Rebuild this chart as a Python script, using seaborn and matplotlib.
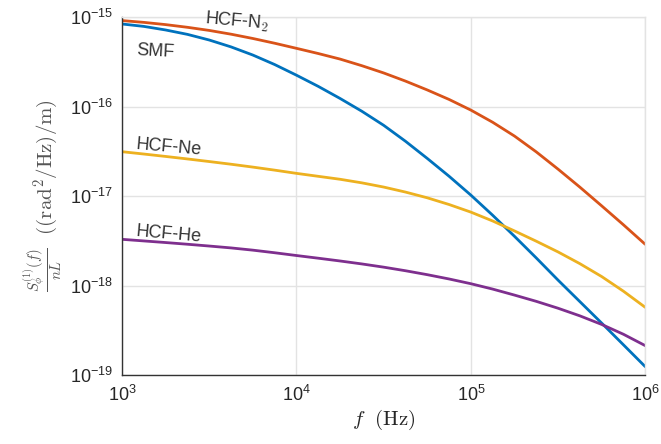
import numpy as np
import pandas as pd
import seaborn as sns
import matplotlib
matplotlib.use("Agg")
import matplotlib.pyplot as plt
from matplotlib.ticker import FixedLocator, NullFormatter

# ---- data (in decades) ----
log_f = [3.0, 3.125, 3.25, 3.375, 3.5, 3.625, 3.75, 3.875, 4.0, 4.125, 4.25, 4.375,
         4.5, 4.625, 4.75, 4.875, 5.0, 5.125, 5.25, 5.375, 5.5, 5.625, 5.75, 5.875, 6.0]
log_hcf_n2 = [-15.04, -15.06, -15.085, -15.115, -15.15, -15.192, -15.24, -15.293,
              -15.35, -15.408, -15.47, -15.544, -15.625, -15.716, -15.815, -15.921,
              -16.04, -16.176, -16.33, -16.507, -16.70, -16.901, -17.11, -17.322, -17.54]
log_smf = [-15.078, -15.105, -15.145, -15.194, -15.257, -15.334, -15.425, -15.531,
           -15.65, -15.775, -15.91, -16.053, -16.21, -16.388, -16.58, -16.779,
           -16.99, -17.215, -17.45, -17.692, -17.94, -18.18, -18.42, -18.663, -18.907]
log_hcf_ne = [-16.505, -16.531, -16.558, -16.586, -16.615, -16.645, -16.677, -16.711,
              -16.747, -16.78, -16.813, -16.853, -16.90, -16.956, -17.02, -17.095,
              -17.18, -17.279, -17.39, -17.505, -17.625, -17.756, -17.90, -18.064, -18.244]
log_hcf_he = [-17.484, -17.502, -17.52, -17.539, -17.559, -17.58, -17.605, -17.634,
              -17.665, -17.695, -17.726, -17.759, -17.795, -17.835, -17.879, -17.927,
              -17.98, -18.04, -18.107, -18.177, -18.254, -18.339, -18.435, -18.545, -18.672]

series_names = ["HCF-N2", "SMF", "HCF-Ne", "HCF-He"]
series_colors = ["#D95319", "#0072BD", "#EDB120", "#7E2F8E"]
label_texts = ["HCF-N$_2$", "SMF", "HCF-Ne", "HCF-He"]
label_x = [2990, 1202, 1202, 1202]
label_y = [9.45e-16, 4.27e-16, 3.72e-17, 3.98e-18]
label_rot = [-5, -3, -5, -5]
x_ticks = [1e3, 1e4, 1e5, 1e6]
x_ticklabels = ["$\\mathdefault{10^{3}}$", "$\\mathdefault{10^{4}}$",
                "$\\mathdefault{10^{5}}$", "$\\mathdefault{10^{6}}$"]
y_ticks = [1e-19, 1e-18, 1e-17, 1e-16, 1e-15]
y_ticklabels = ["$\\mathdefault{10^{-19}}$", "$\\mathdefault{10^{-18}}$",
                "$\\mathdefault{10^{-17}}$", "$\\mathdefault{10^{-16}}$",
                "$\\mathdefault{10^{-15}}$"]

freq = 10.0 ** np.array(log_f)
all_logs = [log_hcf_n2, log_smf, log_hcf_ne, log_hcf_he]
df = pd.DataFrame({
    "f": np.tile(freq, 4),
    "S": 10.0 ** np.concatenate([np.array(v) for v in all_logs]),
    "series": np.repeat(series_names, len(freq)),
})

sns.set_style("white")
plt.rcParams["font.family"] = ["Liberation Sans", "DejaVu Sans"]
plt.rcParams["mathtext.fontset"] = "cm"
plt.rcParams["axes.unicode_minus"] = False

fig = plt.figure(figsize=(6.61, 4.44), dpi=100)
ax = fig.add_axes([0.1846, 0.1554, 0.9762 - 0.1846, 0.9617 - 0.1554])

sns.lineplot(data=df, x="f", y="S", hue="series", hue_order=series_names,
             palette=series_colors, linewidth=2.0, legend=False, ax=ax,
             estimator=None, sort=False)

ax.set_xscale("log")
ax.set_yscale("log")
ax.set_xlim(1e3, 1e6)
ax.set_ylim(1e-19, 1e-15)

ax.set_xticks(x_ticks)
ax.set_xticklabels(x_ticklabels)
ax.set_yticks(y_ticks)
ax.set_yticklabels(y_ticklabels)
xminor = [m * 10.0 ** e for e in (3, 4, 5) for m in range(2, 10)]
yminor = [m * 10.0 ** e for e in (-19, -18, -17, -16) for m in range(2, 10)]
ax.xaxis.set_minor_locator(FixedLocator(xminor))
ax.yaxis.set_minor_locator(FixedLocator(yminor))
ax.xaxis.set_minor_formatter(NullFormatter())
ax.yaxis.set_minor_formatter(NullFormatter())

ax.grid(True, which="major", color="#E3E3E3", linewidth=1.0)
ax.set_axisbelow(True)

dark = "#333333"
for s in ["left", "bottom"]:
    ax.spines[s].set_color(dark)
    ax.spines[s].set_linewidth(1.0)
for s in ["top", "right"]:
    ax.spines[s].set_color("#E3E3E3")
    ax.spines[s].set_linewidth(1.0)

ax.tick_params(axis="both", which="major", direction="inout", length=6,
               width=1.0, color=dark, labelsize=13, labelcolor="#262626",
               top=False, right=False)
ax.tick_params(axis="both", which="minor", direction="in", length=3,
               width=0.8, color=dark, top=False, right=False)
ax.tick_params(axis="x", which="major", pad=4)

ax.set_xlabel(r"$f\ \ (\mathrm{Hz})$", fontsize=15, color="#262626", labelpad=2)
ax.set_ylabel(r"$\frac{S_\phi^{(1)}(f)}{nL}\ \ ((\mathrm{rad}^2/\mathrm{Hz})/\mathrm{m})$",
              fontsize=15, color="#555555", labelpad=4)

for t, x, y, r in zip(label_texts, label_x, label_y, label_rot):
    ax.text(x, y, t, fontsize=13, color="#333333", ha="left", va="center",
            rotation=r, rotation_mode="anchor")

fig.savefig("out.png", dpi=100)
